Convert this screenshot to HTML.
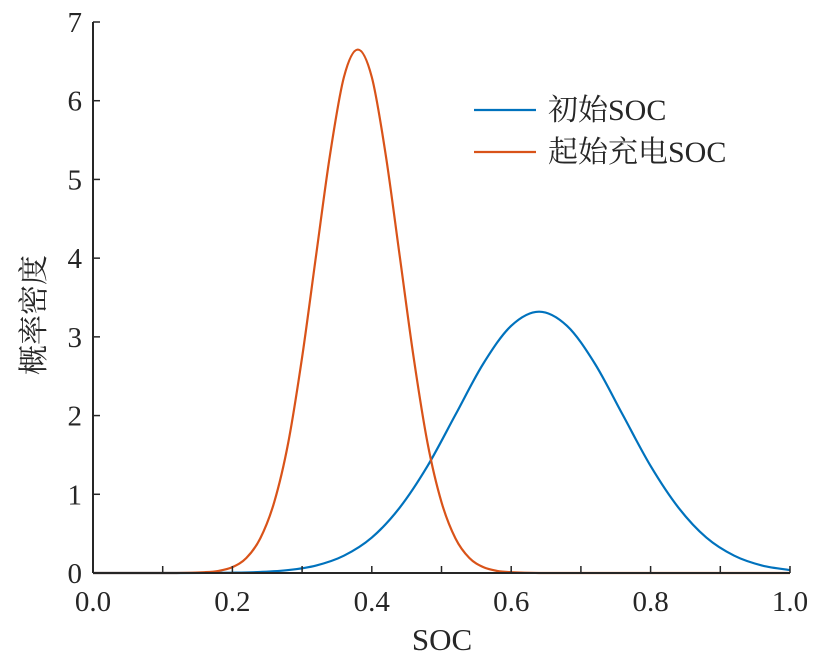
<!DOCTYPE html>
<html><head><meta charset="utf-8"><style>
body{margin:0;background:#fff}
svg text{font-family:"Liberation Serif","Noto Serif CJK SC",serif;fill:#262626}
</style></head><body>
<svg id="c" width="818" height="664" xmlns="http://www.w3.org/2000/svg"></svg>
<script>
const xTicks=[0,0.2,0.4,0.6,0.8,1.0];
const xTickLabels=["0.0","0.2","0.4","0.6","0.8","1.0"];
const yTicks=[0,1,2,3,4,5,6,7];
const blueX=[0,0.04,0.08,0.12,0.16,0.20,0.24,0.28,0.32,0.36,0.40,0.44,0.48,0.52,0.56,0.60,0.64,0.68,0.72,0.76,0.80,0.84,0.88,0.92,0.96,1.0];
const blueY=[0,0,0,0,0.001,0.004,0.013,0.037,0.095,0.22,0.45,0.83,1.36,2.01,2.66,3.14,3.32,3.14,2.66,2.01,1.36,0.83,0.45,0.22,0.095,0.037];
const orangeX=[0,0.04,0.08,0.12,0.16,0.18,0.20,0.22,0.24,0.26,0.28,0.30,0.32,0.34,0.36,0.38,0.40,0.42,0.44,0.46,0.48,0.50,0.52,0.54,0.56,0.58,0.60,0.64,0.7,0.8,0.9,1.0];
const orangeY=[0,0,0,0,0.01,0.026,0.074,0.19,0.44,0.90,1.65,2.74,4.03,5.31,6.30,6.65,6.30,5.31,4.03,2.74,1.65,0.90,0.44,0.19,0.074,0.026,0.01,0,0,0,0,0];
const X0=93,X1=790,Y0=573,Y7=22;
const sx=v=>X0+(X1-X0)*v, sy=v=>Y0-(Y0-Y7)*v/7;
const svg=document.getElementById('c');const NS="http://www.w3.org/2000/svg";
function mk(t,a,p){const e=document.createElementNS(NS,t);for(const k in a)e.setAttribute(k,a[k]);(p||svg).appendChild(e);return e;}
function path(xs,ys){const P=xs.map((x,i)=>[sx(x),sy(ys[i])]);let d=`M${P[0][0]},${P[0][1]}`;
for(let i=0;i<P.length-1;i++){const p0=P[Math.max(i-1,0)],p1=P[i],p2=P[i+1],p3=P[Math.min(i+2,P.length-1)];
let c1y=p1[1]+(p2[1]-p0[1])/6,c2y=p2[1]-(p3[1]-p1[1])/6;c1y=Math.min(c1y,Y0);c2y=Math.min(c2y,Y0);
d+=` C${p1[0]+(p2[0]-p0[0])/6},${c1y} ${p2[0]-(p3[0]-p1[0])/6},${c2y} ${p2[0]},${p2[1]}`;}return d;}
let e;
e=mk('path',{d:path(blueX,blueY),fill:'none',stroke:'#0072BD','stroke-width':2.2});

e=mk('path',{d:path(orangeX,orangeY),fill:'none',stroke:'#D95319','stroke-width':2.2});

e=mk('line',{x1:X0,y1:Y0,x2:X1,y2:Y0,stroke:'#262626','stroke-width':2});

e=mk('line',{x1:X0,y1:Y0,x2:X0,y2:Y7,stroke:'#262626','stroke-width':2});

for(let i=0;i<=10;i++){const x=sx(i/10);mk('line',{x1:x,y1:Y0,x2:x,y2:Y0-7,stroke:'#262626','stroke-width':1.5});}
xTicks.forEach((v,i)=>{e=mk('text',{x:sx(v),y:Y0+38,'font-size':29,'text-anchor':'middle'});e.textContent=xTickLabels[i];
});
yTicks.forEach(v=>{mk('line',{x1:X0,y1:sy(v),x2:X0+7,y2:sy(v),stroke:'#262626','stroke-width':1.5});
e=mk('text',{x:X0-11,y:sy(v)+10,'font-size':29,'text-anchor':'end'});e.textContent=v;
});
e=mk('text',{x:442,y:650,'font-size':31,'text-anchor':'middle'});e.textContent='SOC';

e=mk('text',{x:0,y:0,'font-size':30,'text-anchor':'middle',transform:'translate(44,315) rotate(-90)'});e.textContent='概率密度';

const legNames=['初始SOC','起始充电SOC'],legCols=['#0072BD','#D95319'],legY=[110,152];
legNames.forEach((n,i)=>{const g=mk('g',{});
mk('line',{x1:474,y1:legY[i],x2:536,y2:legY[i],stroke:legCols[i],'stroke-width':2.2},g);
const t=mk('text',{x:548,y:legY[i]+10,'font-size':30},g);t.textContent=n;});
</script>
</body></html>
